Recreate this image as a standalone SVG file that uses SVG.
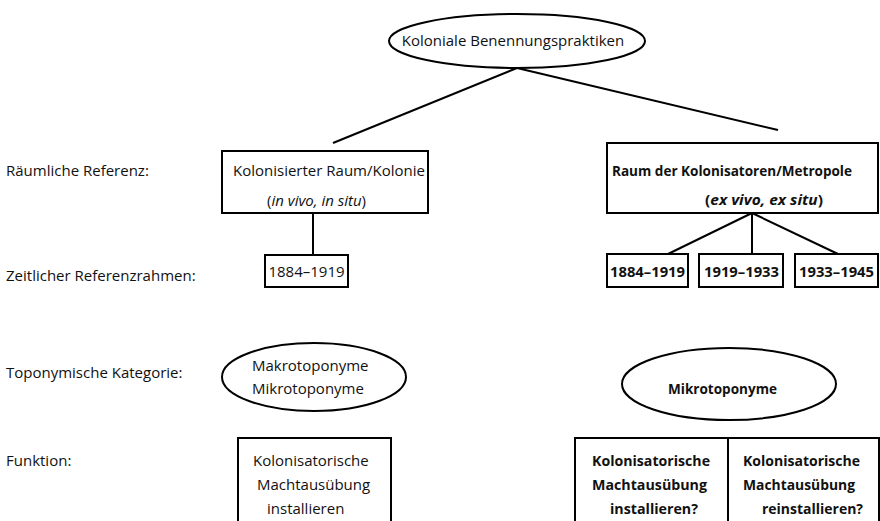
<svg xmlns="http://www.w3.org/2000/svg" width="880" height="521" viewBox="0 0 880 521">
<style>
text{font-family:"Open Sans","Noto Sans","Liberation Sans",sans-serif;font-size:15px;fill:#111}
.b{font-weight:bold}
.shape{fill:#fff;stroke:#000;stroke-width:2}
.line{stroke:#000;stroke-width:2;fill:none}
</style>
<rect width="880" height="521" fill="#fff"/>
<g id="labels">
<text x="6" y="176">Räumliche Referenz:</text>
<text x="6" y="281">Zeitlicher Referenzrahmen:</text>
<text x="6" y="378">Toponymische Kategorie:</text>
<text x="6" y="466">Funktion:</text>
</g>
<g id="connectors">
<line class="line" x1="517" y1="68" x2="333" y2="143"/>
<line class="line" x1="517" y1="68" x2="778" y2="130"/>
<line class="line" x1="313" y1="213" x2="313" y2="255"/>
<line class="line" x1="752" y1="213" x2="668" y2="254"/>
<line class="line" x1="752" y1="213" x2="752" y2="254"/>
<line class="line" x1="752" y1="213" x2="838" y2="254"/>
</g>
<g id="root">
<ellipse class="shape" cx="517" cy="41" rx="128" ry="27"/>
<text x="513" y="46" text-anchor="middle">Koloniale Benennungspraktiken</text>
</g>
<g id="kolonie">
<rect class="shape" x="222" y="151" width="206" height="62"/>
<text x="233" y="176">Kolonisierter Raum/Kolonie</text>
<text x="267" y="206">(<tspan font-style="italic">in vivo, in situ</tspan>)</text>
</g>
<g id="metropole">
<rect class="shape" x="607" y="143" width="271" height="70"/>
<text class="b" x="612" y="176" textLength="240" lengthAdjust="spacingAndGlyphs">Raum der Kolonisatoren/Metropole</text>
<text class="b" x="705" y="205" textLength="118" lengthAdjust="spacingAndGlyphs">(<tspan font-style="italic">ex vivo, ex situ</tspan>)</text>
</g>
<g id="zeit-links">
<rect class="shape" x="265" y="255" width="83" height="32"/>
<text x="306.5" y="277" text-anchor="middle">1884–1919</text>
</g>
<g id="zeit-r1">
<rect class="shape" x="607" y="254" width="81" height="33"/>
<text class="b" x="610" y="277" textLength="75" lengthAdjust="spacingAndGlyphs">1884–1919</text>
</g>
<g id="zeit-r2">
<rect class="shape" x="699" y="254" width="84" height="33"/>
<text class="b" x="704" y="277" textLength="75" lengthAdjust="spacingAndGlyphs">1919–1933</text>
</g>
<g id="zeit-r3">
<rect class="shape" x="795" y="254" width="83" height="33"/>
<text class="b" x="799" y="277" textLength="75" lengthAdjust="spacingAndGlyphs">1933–1945</text>
</g>
<g id="topo-links">
<ellipse class="shape" cx="314" cy="377" rx="92" ry="34"/>
<text x="252" y="371">Makrotoponyme</text>
<text x="252" y="394">Mikrotoponyme</text>
</g>
<g id="topo-rechts">
<ellipse class="shape" cx="729" cy="384" rx="107" ry="36"/>
<text class="b" x="668" y="394" textLength="109" lengthAdjust="spacingAndGlyphs">Mikrotoponyme</text>
</g>
<g id="funktion-links">
<path class="line" d="M238 521V438H391V521"/>
<text x="253" y="466">Kolonisatorische</text>
<text x="257" y="490">Machtausübung</text>
<text x="267" y="514">installieren</text>
</g>
<g id="funktion-rechts">
<path class="line" d="M575 521V438H879V521M728 438V521"/>
<text class="b" x="592" y="466" textLength="118" lengthAdjust="spacingAndGlyphs">Kolonisatorische</text>
<text class="b" x="592" y="490" textLength="115" lengthAdjust="spacingAndGlyphs">Machtausübung</text>
<text class="b" x="610" y="514" textLength="88" lengthAdjust="spacingAndGlyphs">installieren?</text>
<text class="b" x="743" y="466" textLength="117" lengthAdjust="spacingAndGlyphs">Kolonisatorische</text>
<text class="b" x="743" y="490" textLength="112" lengthAdjust="spacingAndGlyphs">Machtausübung</text>
<text class="b" x="762" y="514" textLength="101" lengthAdjust="spacingAndGlyphs">reinstallieren?</text>
</g>
</svg>
